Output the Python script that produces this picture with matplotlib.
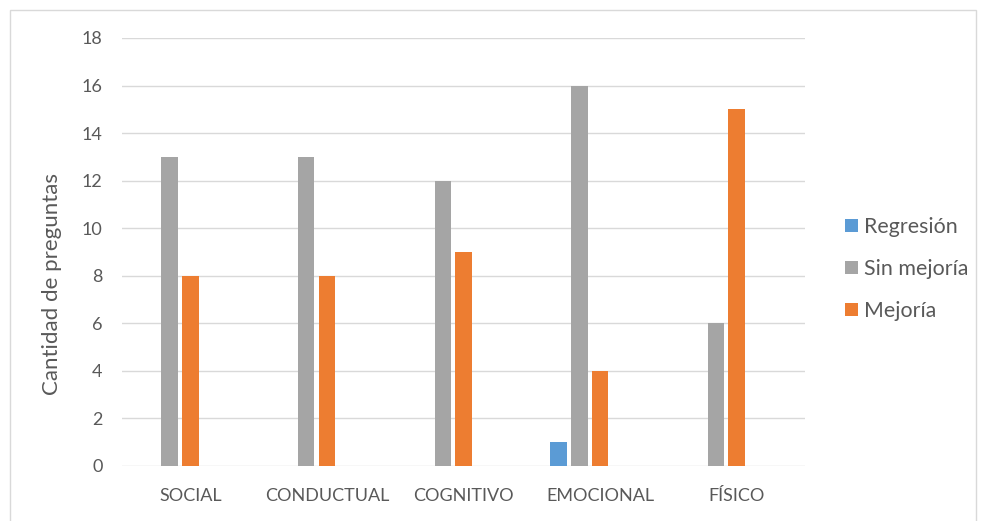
import numpy as np
import matplotlib.pyplot as plt
from matplotlib.patches import Rectangle

categorias = ['SOCIAL', 'CONDUCTUAL', 'COGNITIVO', 'EMOCIONAL', 'FÍSICO']
regresion = [0, 0, 0, 1, 0]
sin_mejoria = [13, 13, 12, 16, 6]
mejoria = [8, 8, 9, 4, 15]

series = ['Regresión', 'Sin mejoría', 'Mejoría']
colores = ['#5B9BD5', '#A5A5A5', '#ED7D31']

plt.rcParams['font.family'] = ['Lato', 'DejaVu Sans']
txt = '#595959'

fig = plt.figure(figsize=(9.81, 5.21), dpi=100)
ax = fig.add_axes([122/981, 1-466/521, (805-122)/981, (466-38)/521])

# marco exterior del grafico
fig.patches.append(Rectangle((10/981, -0.01), 966/981, 1-10/521+0.01,
                             transform=fig.transFigure, fill=False,
                             edgecolor='#D9D9D9', lw=1))

x = np.arange(len(categorias))
w = 0.121
paso = 0.1515
for i, (vals, lab, col) in enumerate(zip([regresion, sin_mejoria, mejoria], series, colores)):
    ax.bar(x + (i-2)*paso, vals, w, color=col, label=lab, zorder=3)

ax.set_xlim(-0.5, 4.5)
ax.set_ylim(0, 18)
ax.set_yticks(range(0, 19, 2))
ax.set_xticks(x)
ax.set_xticklabels(categorias)
ax.grid(axis='y', color='#D9D9D9', lw=1, zorder=0)
for s in ax.spines.values():
    s.set_visible(False)
ax.tick_params(length=0, labelsize=13, labelcolor=txt)
ax.tick_params(axis='y', pad=14)
ax.tick_params(axis='x', pad=16)
ax.set_ylabel('Cantidad de preguntas', fontsize=16, color=txt)
ax.yaxis.set_label_coords(-0.088, 0.425)

fig.legend(loc='center left', bbox_to_anchor=(826/981, 1-269/521), frameon=False,
           fontsize=15.4, labelcolor=txt, handlelength=0.6, handleheight=0.6,
           handletextpad=0.3, labelspacing=1.03)

plt.savefig('out.png', dpi=100)
